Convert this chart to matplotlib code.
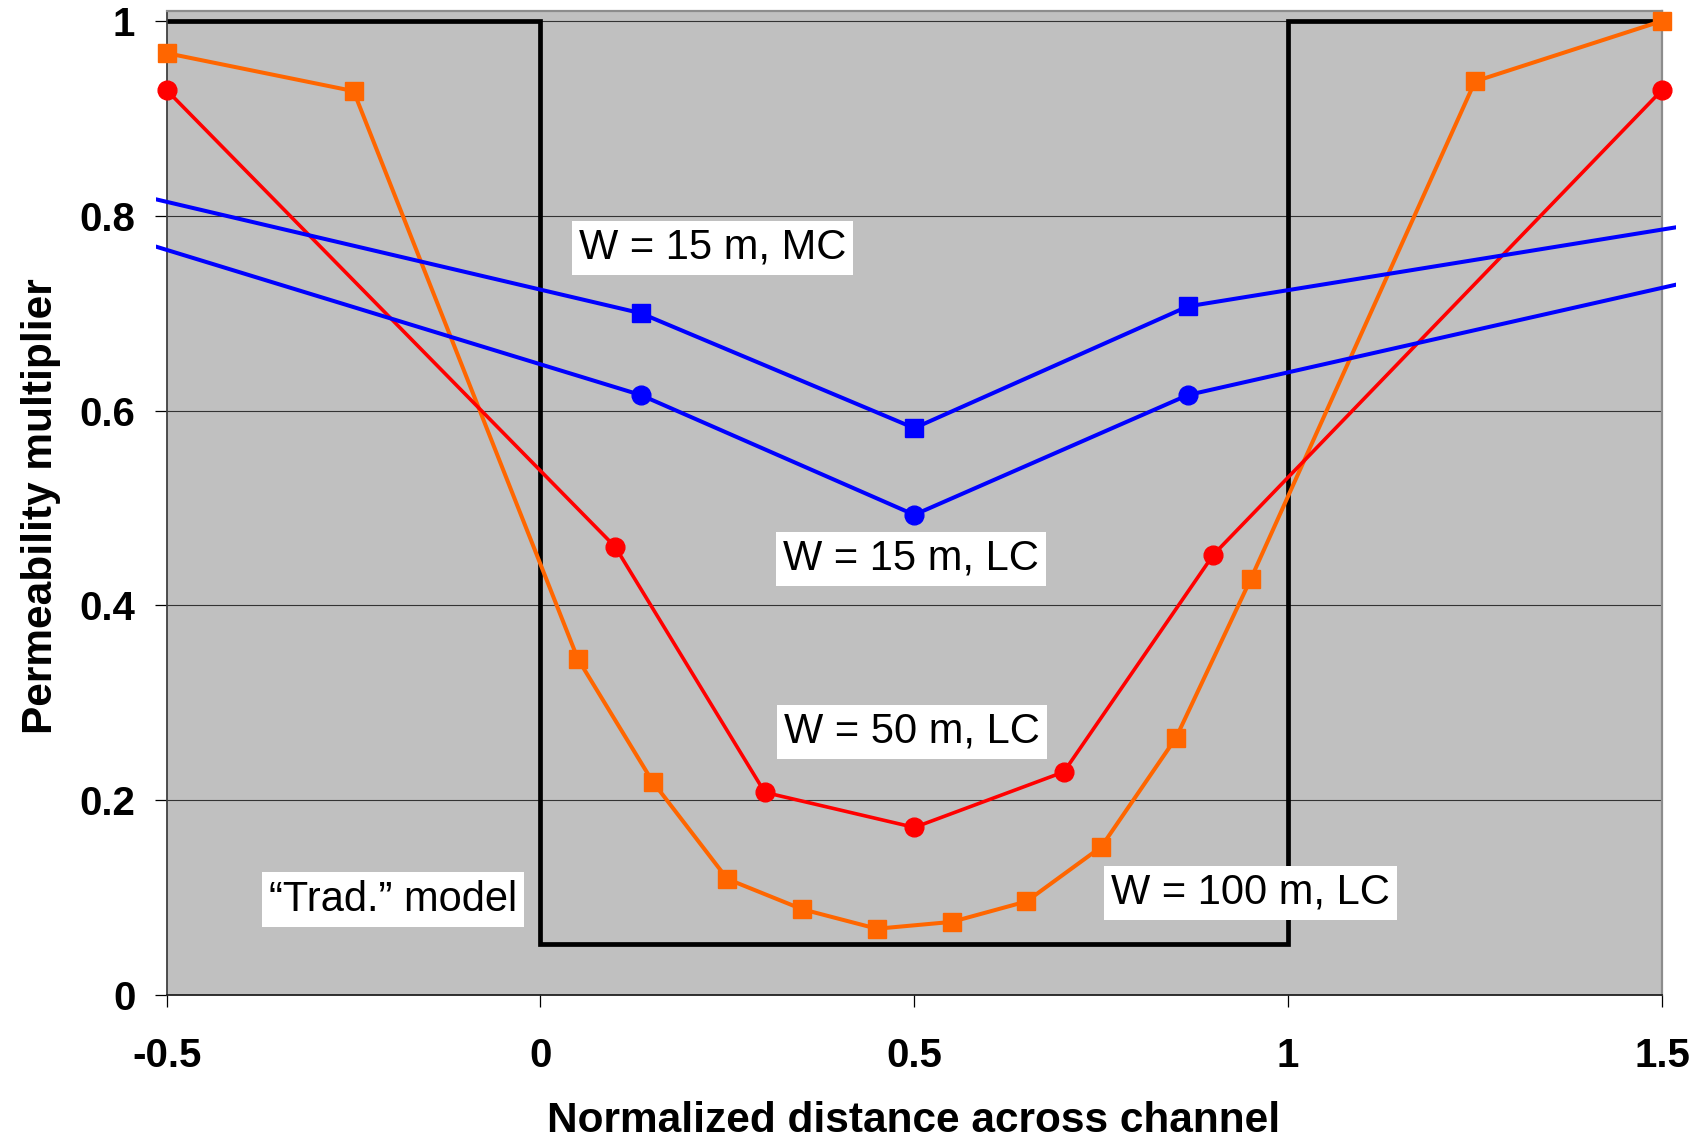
import matplotlib
matplotlib.use("Agg")
import matplotlib.pyplot as plt
from matplotlib.transforms import Bbox, TransformedBbox

plt.rcParams['font.family'] = ['Liberation Sans', 'DejaVu Sans']

# --- data ---
# W = 100 m, LC (orange squares)
x_100 = [-0.5, -0.25, 0.05, 0.15, 0.25, 0.35, 0.45, 0.55, 0.65, 0.75, 0.85, 0.95, 1.25, 1.5]
y_100 = [0.967, 0.928, 0.345, 0.219, 0.119, 0.088, 0.068, 0.075, 0.096, 0.152, 0.264, 0.427, 0.938, 1.0]

# W = 50 m, LC (red circles)
x_50 = [-0.5, 0.1, 0.3, 0.5, 0.7, 0.9, 1.5]
y_50 = [0.929, 0.460, 0.208, 0.172, 0.229, 0.452, 0.929]

# W = 15 m (blue); first and last points lie outside the axis range
x_15 = [-0.598, 0.134, 0.5, 0.866, 1.598]
y_15_mc = [0.832, 0.700, 0.582, 0.707, 0.798]
y_15_lc = [0.788, 0.616, 0.493, 0.616, 0.743]
x_15_mark = [0.134, 0.5, 0.866]
y_15_mc_mark = [0.700, 0.582, 0.707]
y_15_lc_mark = [0.616, 0.493, 0.616]

# "Trad." model step
x_trad = [-0.5, 0.0, 0.0, 1.0, 1.0, 1.5]
y_trad = [1.0, 1.0, 0.052, 0.052, 1.0, 1.0]

labels = ["W = 15 m, MC", "W = 15 m, LC", "W = 50 m, LC", "W = 100 m, LC", "\u201cTrad.\u201d model"]
label_x = [0.230, 0.495, 0.497, 0.950, -0.197]
label_y = [0.767, 0.448, 0.270, 0.105, 0.098]

xticks = [-0.5, 0, 0.5, 1, 1.5]
xtick_labels = ["-0.5", "0", "0.5", "1", "1.5"]
yticks = [0, 0.2, 0.4, 0.6, 0.8, 1.0]
ytick_labels = ["0", "0.2", "0.4", "0.6", "0.8", "1"]

# --- figure ---
fig = plt.figure(figsize=(16.99, 11.41), dpi=100)
ax = fig.add_axes([0.0981, 0.128, 0.8801, 0.8624])
ax.set_facecolor("#C0C0C0")
ax.set_xlim(-0.5, 1.5)
ax.set_ylim(0, 1.0103)

for yv in yticks[1:]:
    ax.axhline(yv, color="#333333", lw=0.8, zorder=1)

ax.plot(x_trad, y_trad, color="black", lw=3.4, zorder=2, solid_joinstyle="miter")

ax.plot(x_100, y_100, color="#FF6600", lw=2.9, marker="s", ms=13.5,
        mec="#FF6600", zorder=3, clip_on=False)
ax.plot(x_50, y_50, color="#FF0000", lw=2.6, marker="o", ms=13.5,
        mec="#FF0000", zorder=4, clip_on=False)

# Excel clips lines at the plot area, a bit wider than the axis range
clip = TransformedBbox(Bbox([[-0.0071, 0.0], [1.0091, 1.0]]), ax.transAxes)
for yy in (y_15_mc, y_15_lc):
    ln, = ax.plot(x_15, yy, color="#0000FF", lw=2.9, zorder=5)
    ln.set_clip_box(clip)
ax.plot(x_15_mark, y_15_mc_mark, ls="none", marker="s", ms=13.5,
        color="#0000FF", zorder=6)
ax.plot(x_15_mark, y_15_lc_mark, ls="none", marker="o", ms=13.5,
        color="#0000FF", zorder=6)

for t, lx, ly in zip(labels, label_x, label_y):
    ax.text(lx, ly, t, fontsize=30, ha="center", va="center", zorder=7,
            bbox=dict(boxstyle="square,pad=0.17", fc="white", ec="none"))

ax.set_xticks(xticks)
ax.set_xticklabels(xtick_labels, fontsize=29, fontweight="bold")
ax.set_yticks(yticks)
ax.set_yticklabels(ytick_labels, fontsize=29, fontweight="bold")
ax.tick_params(axis="x", direction="out", length=8.6, width=0.9, pad=22)
ax.tick_params(axis="y", direction="out", length=8.6, width=0.9, pad=14)

ax.spines["left"].set_color("#404040")
ax.spines["left"].set_linewidth(1.3)
ax.spines["bottom"].set_color("#202020")
ax.spines["bottom"].set_linewidth(1.3)
for s in ("top", "right"):
    ax.spines[s].set_color("#8C8C8C")
    ax.spines[s].set_linewidth(1.6)

fig.text(41 / 1699, 1 - 506 / 1141, "Permeability multiplier", rotation=90,
         fontsize=30.5, fontweight="bold", ha="center", va="center")
fig.text(914 / 1699, 1 - 1121 / 1141, "Normalized distance across channel",
         fontsize=30.5, fontweight="bold", ha="center", va="center")

fig.savefig("out.png", dpi=100)
